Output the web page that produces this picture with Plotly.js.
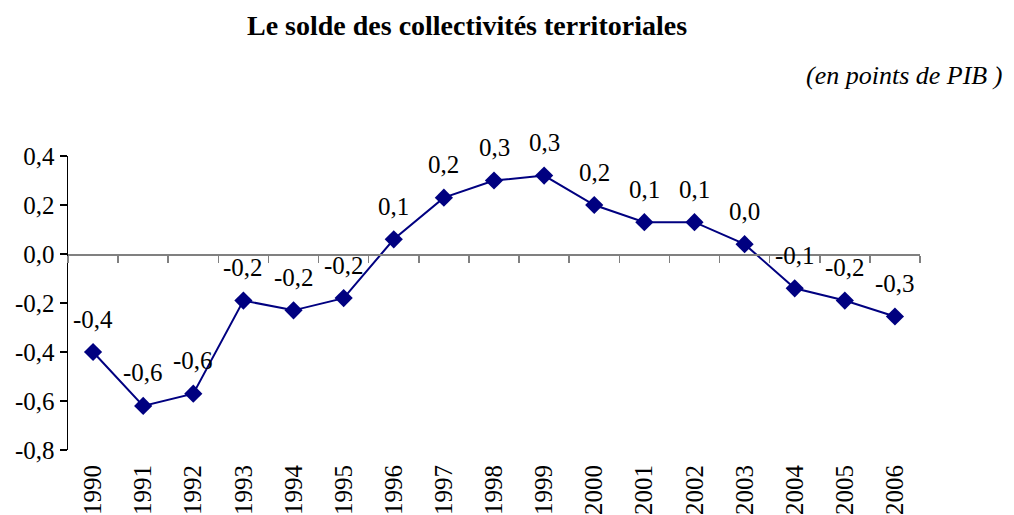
<!DOCTYPE html>
<html>
<head>
<meta charset="utf-8">
<script src="https://cdn.plot.ly/plotly-3.0.1.min.js"></script>
<style>html,body{margin:0;padding:0;background:#fff;}#chart{width:1014px;height:515px;}</style>
</head>
<body>
<div id="chart"></div>
<script>
const years = ["1990","1991","1992","1993","1994","1995","1996","1997","1998","1999","2000","2001","2002","2003","2004","2005","2006"];
const solde = [-0.40,-0.62,-0.57,-0.19,-0.23,-0.18,0.06,0.23,0.30,0.32,0.20,0.13,0.13,0.04,-0.14,-0.19,-0.255];
const yTickVals = [-0.8,-0.6,-0.4,-0.2,0.0,0.2,0.4];
const yTickText = ["-0,8","-0,6","-0,4","-0,2","0,0","0,2","0,4"];
const titleText = "Le solde des collectivités territoriales";
const unitText = "(en points de PIB )";

const fmt = v => v.toFixed(1).replace('.', ',');
const font = "Liberation Serif";
const navy = "#000080";

const W = 1014, H = 515;
const M = {l: 68, r: 94, t: 156, b: 65};
const plotW = W - M.l - M.r, plotH = H - M.t - M.b;

const yMin = -0.8, yMax = 0.4;
const zeroPos = (0 - yMin) / (yMax - yMin);

const traces = [
  {
    x: years, y: solde, type: "scatter", mode: "lines+markers",
    line: {color: navy, width: 2},
    marker: {symbol: "diamond", size: 14, color: navy},
    hoverinfo: "skip", showlegend: false
  },
  {
    x: years, y: solde, type: "scatter", mode: "markers", xaxis: "x2",
    marker: {opacity: 0}, hoverinfo: "skip", showlegend: false
  }
];

const annotations = years.map((yr, i) => ({
  x: i, y: solde[i], xref: "x", yref: "y", text: fmt(solde[i]),
  showarrow: false, yshift: 33, xanchor: "center", yanchor: "middle",
  font: {family: font, size: 25, color: "#000"}
}));
annotations.push({
  xref: "paper", yref: "paper",
  x: (1004 - M.l) / plotW, y: (H - M.b - 75) / plotH,
  xanchor: "right", yanchor: "middle",
  text: "<i>" + unitText + "</i>", showarrow: false,
  font: {family: font, size: 26, color: "#000"}
});

const layout = {
  width: W, height: H,
  margin: M,
  paper_bgcolor: "#fff", plot_bgcolor: "#fff",
  font: {family: font, size: 24, color: "#000"},
  title: {
    text: "<b>" + titleText + "</b>",
    x: 467 / W, xanchor: "center", xref: "container",
    y: 1 - 25 / H, yanchor: "middle", yref: "container",
    font: {family: font, size: 28, color: "#000"}
  },
  xaxis: {
    type: "category", range: [-0.5, 16.5],
    showline: false, showgrid: false, zeroline: false,
    ticks: "", tickangle: -90, ticklabelstandoff: 9,
    tickfont: {family: font, size: 25, color: "#000"},
    fixedrange: true
  },
  xaxis2: {
    type: "category", range: [-0.5, 16.5], overlaying: "x", anchor: "free", position: zeroPos,
    side: "bottom", showline: true, linecolor: "#808080", linewidth: 1.5,
    ticks: "outside", tickson: "boundaries", ticklen: 7, tickcolor: "#808080", tickwidth: 1.5,
    showticklabels: false, showgrid: false, zeroline: false, fixedrange: true
  },
  yaxis: {
    range: [yMin, yMax], tickvals: yTickVals, ticktext: yTickText,
    showline: true, linecolor: "#000", linewidth: 1.5,
    ticks: "outside", ticklen: 7, tickcolor: "#000", tickwidth: 1.5,
    showgrid: false, zeroline: false, tickfont: {family: font, size: 25, color: "#000"},
    fixedrange: true
  },
  annotations: annotations
};

Plotly.newPlot("chart", traces, layout, {displayModeBar: false, staticPlot: true});
</script>
</body>
</html>
